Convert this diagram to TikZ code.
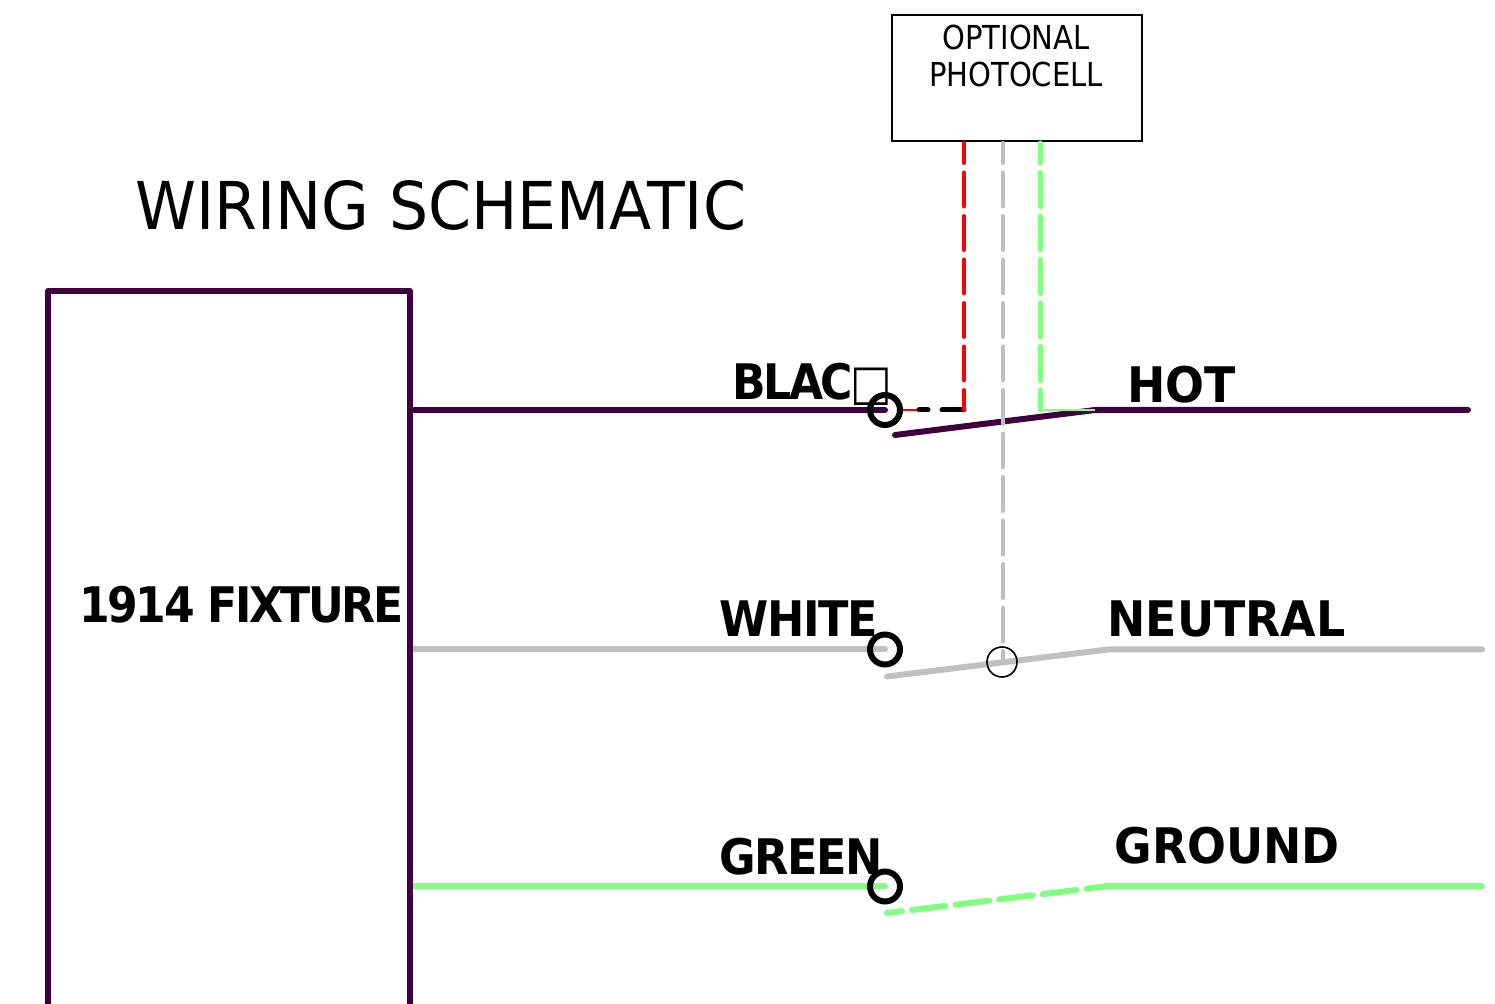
\documentclass[tikz,border=0pt]{standalone}
\usepackage{fontspec}
\setmainfont{DejaVu Sans}[FakeStretch=0.88]
\newfontfamily\titlefont{DejaVu Sans}[FakeStretch=0.934]
\newfontfamily\tightbold{DejaVu Sans Bold}[FakeStretch=0.91,LetterSpace=-3]
\newfontfamily\tighterbold{DejaVu Sans Bold}[FakeStretch=0.9,LetterSpace=-5]
\newfontfamily\widebold{DejaVu Sans Bold}[FakeStretch=0.935]
\usetikzlibrary{positioning}

\definecolor{hotwire}{HTML}{400040}
\definecolor{neutralwire}{HTML}{C0C0C0}
\definecolor{groundwire}{HTML}{80FF80}

\begin{document}
\begin{tikzpicture}[x=0.5pt,y=-0.5pt,
    wire/.style={line width=3pt,line cap=round,line join=round},
    feed/.style={line width=2pt,line cap=round,dash pattern=on 17pt off 4.75pt,dash phase=7pt},
    terminal/.style={draw=black,circle,line width=3pt,minimum size=15pt,inner sep=0pt,outer sep=0pt},
    wirelabel/.style={font=\fontsize{24.5}{26}\selectfont\tightbold,inner sep=0pt,anchor=base west}]
        \useasboundingbox (0,0) rectangle (1495,1004);
        % corners of the fixture
        \coordinate (fixbl) at (48,1004);
        \coordinate (fixtl) at (48,291);
        \coordinate (fixtr) at (410,291);
        \coordinate (fixbr) at (410,1004);
        % photocell
        \node[draw,line width=0.7pt,minimum width=125pt,minimum height=63pt,inner sep=0pt] (cell) at (1017,78) {};
        \node[align=center,inner sep=0pt,font=\fontsize{16.5}{18.5}\selectfont] (celltext) at (1016,56) {OPTIONAL\\ PHOTOCELL};
        \coordinate (redtop) at (964,143);
        \coordinate (greytop) at (1003,143);
        \coordinate (greentop) at (1040,143);
        \coordinate (redend) at (964,410);
        \coordinate (greyend) at (1003,662);
        \coordinate (greenend) at (1040,410);
        \coordinate (blackstub) at (919,410);
        \coordinate (redstub) at (903,410);
        % terminals and switch points
        \coordinate (hotfix) at (413,410);
        \coordinate (neufix) at (413,649.5);
        \coordinate (grofix) at (414,886.5);
        \coordinate (hotend) at (885,410);
        \coordinate (neuend) at (885,649.5);
        \coordinate (groend) at (885,886.5);
        \coordinate (hotlow) at (895,435);
        \coordinate (neulow) at (887,676.5);
        \coordinate (grolow) at (887,913);
        \coordinate (hotknee) at (1095,410);
        \coordinate (neuknee) at (1108,649.5);
        \coordinate (groknee) at (1105,886.5);
        \coordinate (hotout) at (1468,410);
        \coordinate (neuout) at (1482,649.5);
        \coordinate (groout) at (1482,886.5);
        % wires
        \draw[wire,hotwire] (hotfix)--(hotend);
        \draw[wire,hotwire] (hotlow)--(hotknee)--(hotout);
        \draw[wire,neutralwire] (neufix)--(neuend);
        \draw[wire,neutralwire] (neulow)--(neuknee)--(neuout);
        \draw[wire,groundwire] (grofix)--(groend);
        \draw[wire,groundwire,dash pattern=on 17pt off 5pt,dash phase=9.5pt] (grolow)--(groknee);
        \draw[wire,groundwire] (groknee)--(groout);
        \draw[wire,hotwire] (fixbl)--(fixtl)--(fixtr)--(fixbr);
        % photocell feeds
        \draw[red,line width=1pt] (redstub)--(blackstub);
        \draw[wire,line width=2.5pt,black,dash pattern=on 11pt off 7pt] (redend)--(blackstub);
        \draw[feed,red] (redtop)--(redend);
        \draw[feed,neutralwire] (greytop)--(greyend);
        \draw[groundwire,line width=1.2pt] (greenend)--(hotknee);
        \draw[feed,groundwire,line width=2.5pt] (greentop)--(greenend);
        \node[terminal] (hotterm) at (885,410) {};
        \node[terminal] (neuterm) at (885,649.5) {};
        \node[terminal] (groterm) at (885,886.5) {};
        \node[draw=black,circle,line width=0.8pt,minimum size=15pt,inner sep=0pt] (neutap) at (1002,662) {};
        % labels
        \node[inner sep=0pt,anchor=base west,font=\fontsize{33}{36}\selectfont\titlefont] (title) at (135,230) {WIRING SCHEMATIC};
        \node[wirelabel,font=\fontsize{24.5}{26}\selectfont\tighterbold] (fixname) at (79,623) {1914 FIXTURE};
        \node[wirelabel,font=\fontsize{24.5}{26}\selectfont\tighterbold] (blacklab) at (732,400) {BLAC\symbol{"25A1}};
        \node[wirelabel] (whitelab) at (719,637) {WHITE};
        \node[wirelabel] (greenlab) at (719,875) {GREEN};
        \node[wirelabel,font=\fontsize{24.5}{26}\selectfont\widebold] (hotlab) at (1127,403) {HOT};
        \node[wirelabel,font=\fontsize{24.5}{26}\selectfont\widebold] (neulab) at (1107,637) {NEUTRAL};
        \node[wirelabel,font=\fontsize{24.5}{26}\selectfont\widebold] (grolab) at (1114,864) {GROUND};
      \end{tikzpicture}
\end{document}
